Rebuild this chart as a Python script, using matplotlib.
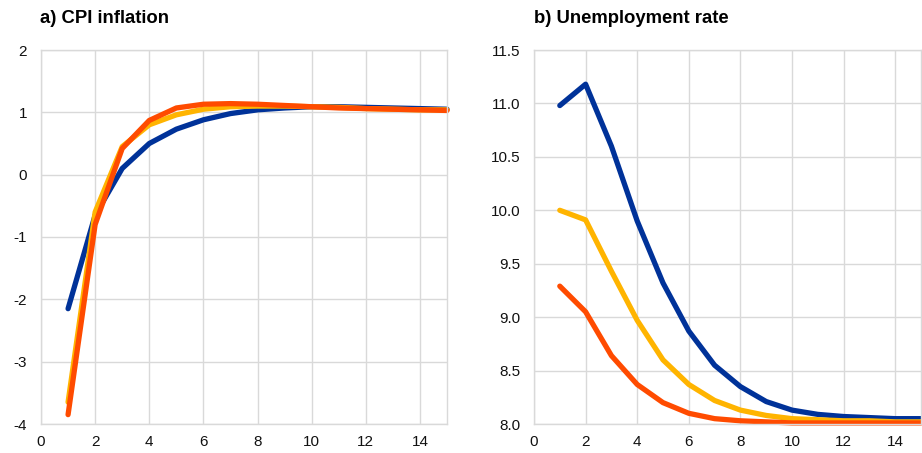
import numpy as np
import matplotlib.pyplot as plt

plt.rcParams['font.family'] = ['Liberation Sans', 'DejaVu Sans']
plt.rcParams['axes.unicode_minus'] = False

# horizon (quarters)
x = np.arange(1, 16)

# a) CPI inflation
cpi_blue = [-2.15, -0.65, 0.10, 0.50, 0.73, 0.88, 0.98, 1.04, 1.07, 1.09, 1.09, 1.08, 1.07, 1.06, 1.05]
cpi_yellow = [-3.65, -0.60, 0.45, 0.80, 0.96, 1.05, 1.09, 1.10, 1.10, 1.09, 1.08, 1.06, 1.05, 1.04, 1.04]
cpi_orange = [-3.85, -0.80, 0.42, 0.87, 1.07, 1.13, 1.14, 1.13, 1.11, 1.09, 1.07, 1.06, 1.05, 1.04, 1.03]

# b) Unemployment rate
ur_blue = [10.98, 11.18, 10.60, 9.90, 9.32, 8.87, 8.55, 8.35, 8.21, 8.13, 8.09, 8.07, 8.06, 8.05, 8.05]
ur_yellow = [10.00, 9.91, 9.43, 8.97, 8.60, 8.37, 8.22, 8.13, 8.08, 8.05, 8.04, 8.03, 8.03, 8.02, 8.02]
ur_orange = [9.29, 9.05, 8.64, 8.37, 8.20, 8.10, 8.05, 8.03, 8.02, 8.01, 8.01, 8.01, 8.01, 8.01, 8.01]

colors = ['#003299', '#FFB400', '#FF4B00']
grid_c = '#d9d9d9'

fig = plt.figure(figsize=(9.22, 4.53), dpi=100)
ax1 = fig.add_axes([41/922, 1 - 424/453, (447 - 41)/922, (424 - 50)/453])
ax2 = fig.add_axes([534/922, 1 - 424/453, (921 - 534)/922, (424 - 50)/453])


def style(ax):
    ax.set_xlim(0, 15)
    ax.set_xticks(np.arange(0, 15, 2))
    ax.grid(True, color=grid_c, linewidth=1)
    ax.set_axisbelow(True)
    for s in ax.spines.values():
        s.set_color(grid_c)
        s.set_linewidth(1)
    ax.tick_params(length=0, labelsize=11, colors='#111111')
    ax.tick_params(axis='y', pad=10)
    ax.tick_params(axis='x', pad=8)


for ys, c in zip([cpi_blue, cpi_yellow, cpi_orange], colors):
    ax1.plot(x, ys, color=c, linewidth=3.8, solid_capstyle='round', clip_on=False)
ax1.set_ylim(-4, 2)
ax1.set_yticks(np.arange(-4, 3, 1))
style(ax1)

for ys, c in zip([ur_blue, ur_yellow, ur_orange], colors):
    ax2.plot(x, ys, color=c, linewidth=3.8, solid_capstyle='round', clip_on=False)
ax2.set_ylim(8, 11.5)
ax2.set_yticks(np.arange(8, 11.51, 0.5))
ax2.yaxis.set_major_formatter(plt.FormatStrFormatter('%.1f'))
style(ax2)

fig.text(40/922, 1 - 23/453, 'a) CPI inflation', fontsize=13.3, fontweight='bold')
fig.text(534/922, 1 - 23/453, 'b) Unemployment rate', fontsize=13.3, fontweight='bold')

fig.savefig('out.png', dpi=100)
